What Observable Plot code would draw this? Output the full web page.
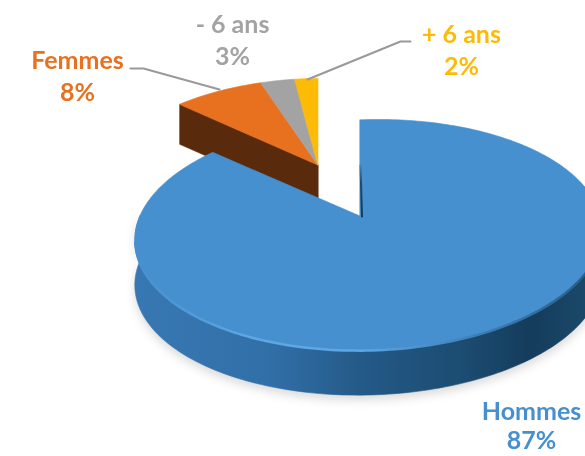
<!DOCTYPE html>
<html><head><meta charset="utf-8">
<style>html,body{margin:0;padding:0;background:#fff}svg{display:block;filter:blur(.45px)}</style>
<script src="https://cdn.jsdelivr.net/npm/d3@7"></script>
<script src="https://cdn.jsdelivr.net/npm/@observablehq/plot@0.6"></script>
</head><body><script>
// Data
const categories = ["+ 6 ans", "- 6 ans", "Femmes", "Hommes"];
const shares = [2, 3, 8, 87];
const percentLabels = ["2%", "3%", "8%", "87%"];
const colors = ["#fdbb06", "#a3a3a3", "#e8711f", "#4690d0"];

// Layout of the tilted pie (pixels)
const W = 585, H = 456;
const tiltK = 0.165, tiltM = -0.035;
const main = {cx: 360, cy: 216, rx: 230, ry: 112, shear: 0.025};
const pulled = {cx: 318, cy: 165, rx: 216, ry: 101, shear: 0};
const depthMain = 45, depthPulled = 40;

// Percent clockwise from top -> pixel on the tilted disc
function project(g, pct, r = 1) {
  const a = pct / 100 * 2 * Math.PI;
  const X = Math.sin(a) * r, Y = Math.cos(a) * r;
  const w = 1 + tiltK * Y + tiltM * X;
  const dx = g.rx * X / w;
  return [g.cx + dx, g.cy - g.ry * Y / w - g.shear * dx];
}
function arc(g, p0, p1) {
  const n = Math.max(2, Math.ceil(Math.abs(p1 - p0) * 3));
  return d3.range(n + 1).map(i => project(g, p0 + (p1 - p0) * i / n));
}
function sector(g, p0, p1) {
  return arc(g, p0, p1).map(([x, y]) => ({x1: g.cx, y1: g.cy, x2: x, y2: y}));
}
function wall(points, d) {
  return points.map(([x, y]) => ({x1: x, y1: y, x2: x, y2: y + d}));
}
const areaOpts = (fill) => ({x1: "x1", y1: "y1", x2: "x2", y2: "y2", fill, stroke: fill, strokeWidth: .6});

// Slices: clockwise from the top. Hommes starts at 0; the small ones end at 100.
const pHommes = shares[3];
const pFemmes = pHommes + shares[2];
const pMoins = pFemmes + shares[1];

const defs = () => {
  const ns = "http://www.w3.org/2000/svg";
  const d = document.createElementNS(ns, "defs");
  d.innerHTML = `
  <filter id="soft" x="-10%" y="-10%" width="120%" height="120%"><feGaussianBlur stdDeviation="5"/></filter>
  <linearGradient id="side" gradientUnits="userSpaceOnUse" x1="135" x2="585" y1="0" y2="0">
    <stop offset="0" stop-color="#3878b2"/><stop offset=".3" stop-color="#316fa8"/>
    <stop offset=".5" stop-color="#245a88"/><stop offset=".72" stop-color="#1c4d72"/>
    <stop offset=".88" stop-color="#143c5c"/><stop offset="1" stop-color="#1b4869"/>
  </linearGradient>
  <linearGradient id="rim" gradientUnits="userSpaceOnUse" x1="135" x2="585" y1="0" y2="0">
    <stop offset="0" stop-color="#4690d0"/><stop offset=".25" stop-color="#5ea6e4"/>
    <stop offset=".5" stop-color="#5ea6e4"/><stop offset=".75" stop-color="#3f80b8"/>
    <stop offset="1" stop-color="#2a5f8a"/>
  </linearGradient>
  <linearGradient id="cut" gradientUnits="userSpaceOnUse" x1="0" x2="0" y1="160" y2="217">
    <stop offset="0" stop-color="#4690d0"/><stop offset=".4" stop-color="#1d4a6c"/><stop offset="1" stop-color="#123a58"/>
  </linearGradient>`;
  return d;
};
const softened = (i, s, v, d, c, next) => {
  const g = next(i, s, v, d, c);
  g.setAttribute("filter", "url(#soft)");
  return g;
};

const brownWall = wall([[pulled.cx, pulled.cy], project(pulled, pHommes)], depthPulled);
const blueWall = wall(arc(main, 24, 76), depthMain);
const shadow = wall(arc(main, 24, 76), depthMain + 5);
const rim = arc(main, 28, 72);

const leaders = [
  {name: "Femmes", pts: [[130, 68], [143, 68], [219, 89]]},
  {name: "+ 6 ans", pts: [[410, 41], [400, 41], [307, 79]]}
].flatMap(l => l.pts.map(([x, y]) => ({name: l.name, x, y})));

const labels = [
  {i: 0, x: 461, y: 34, gap: 32.5},
  {i: 1, x: 232, y: 24, gap: 32.5},
  {i: 2, x: 77, y: 60, gap: 32.5},
  {i: 3, x: 531, y: 411, gap: 29}
];
const textOpts = {x: "x", y: "y", text: "t", fill: d => colors[d.i], fontSize: 25, fontWeight: 700,
  fontFamily: "Lato", textAnchor: "middle"};

const chart = Plot.plot({
  width: W, height: H, margin: 0,
  x: {domain: [0, W], range: [0, W], axis: null},
  y: {domain: [0, H], range: [0, H], axis: null},
  style: {background: "#fff"},
  marks: [
    defs,
    // soft shadow under the main slice
    Plot.area(shadow, {x1: "x1", y1: "y1", x2: "x2", y2: "y2", fill: "#000", fillOpacity: .14, render: softened}),
    // pulled-out slices
    Plot.area(brownWall, areaOpts("#5a2a0c")),
    Plot.area(sector(pulled, pHommes, pFemmes), areaOpts(colors[2])),
    Plot.area(sector(pulled, pFemmes, pMoins), areaOpts(colors[1])),
    Plot.area(sector(pulled, pMoins, 100), areaOpts(colors[0])),
    // main slice
    Plot.area(blueWall, areaOpts("url(#side)")),
    Plot.area(sector(main, 0, pHommes), areaOpts(colors[3])),
    Plot.line([[main.cx, 165], [main.cx + 1.5, main.cy]], {x: "0", y: "1", stroke: "url(#cut)", strokeWidth: 2}),
    Plot.line(rim, {x: "0", y: "1", stroke: "url(#rim)", strokeWidth: 2.5}),
    // leaders and labels
    Plot.line(leaders, {x: "x", y: "y", z: "name", stroke: "#9a9a9a", strokeWidth: 2.2}),
    Plot.text(labels.map(l => ({...l, t: categories[l.i]})), textOpts),
    Plot.text(labels.map(l => ({...l, y: l.y + l.gap, t: percentLabels[l.i]})), textOpts)
  ]
});
document.body.appendChild(chart);
</script></body></html>
